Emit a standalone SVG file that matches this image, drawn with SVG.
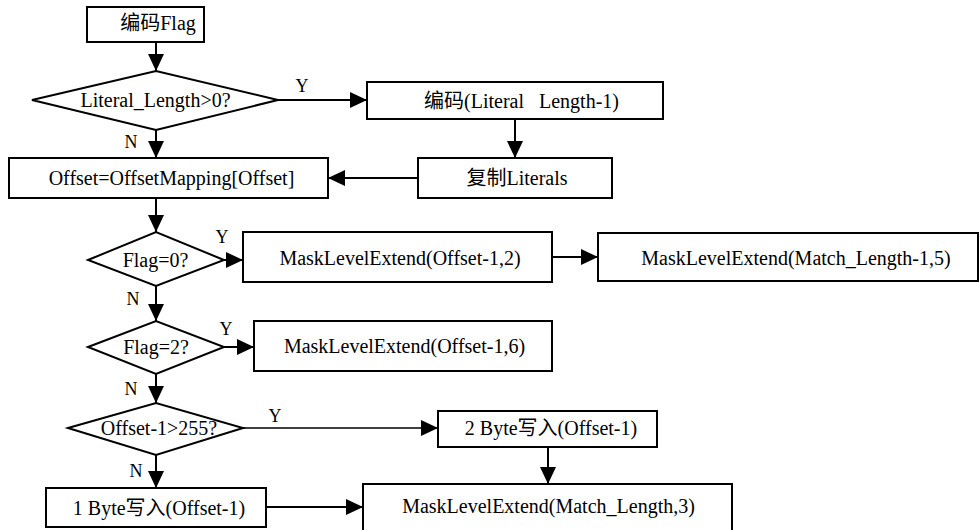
<svg xmlns="http://www.w3.org/2000/svg" width="979" height="530" viewBox="0 0 979 530">
<defs>
<style>
.n{fill:#fff;stroke:#000;stroke-width:2}
.t{font-family:"Liberation Serif",serif;font-size:20px;fill:#000;text-anchor:middle}
.z{font-family:"Liberation Serif","Noto Sans CJK SC",sans-serif}
.l{font-family:"Liberation Serif",serif;font-size:18px;fill:#000;text-anchor:middle}
.c{stroke:#000;stroke-width:2;fill:none;marker-end:url(#a)}
.thin{stroke-width:1.3}
</style>
<marker id="a" markerUnits="userSpaceOnUse" markerWidth="17" markerHeight="16" refX="17" refY="8" orient="auto">
<path d="M0,0 L17,8 L0,16 z" fill="#000"/>
</marker>
</defs>
<rect width="979" height="530" fill="#fff"/>
<g id="connectors">
<line class="c" x1="156" y1="42" x2="156" y2="71"/>
<line class="c" x1="278" y1="100" x2="367" y2="100"/>
<line class="c" x1="515" y1="119" x2="515" y2="158"/>
<line class="c" x1="418" y1="178" x2="328" y2="178"/>
<line class="c" x1="156" y1="130" x2="156" y2="158"/>
<line class="c" x1="156" y1="198" x2="156" y2="232"/>
<line class="c" x1="224" y1="260" x2="243" y2="260"/>
<line class="c" x1="552" y1="257" x2="598" y2="257"/>
<line class="c" x1="156" y1="286" x2="156" y2="321"/>
<line class="c" x1="224" y1="347" x2="254" y2="347"/>
<line class="c" x1="156" y1="374" x2="156" y2="403"/>
<line class="c thin" x1="243" y1="428" x2="438" y2="428"/>
<line class="c" x1="548" y1="447" x2="548" y2="484"/>
<line class="c" x1="156" y1="455" x2="156" y2="488"/>
<line class="c" x1="266" y1="507" x2="363" y2="507"/>
<text class="l" x="302" y="92">Y</text>
<text class="l" x="131" y="148">N</text>
<text class="l" x="222" y="243">Y</text>
<text class="l" x="133" y="305">N</text>
<text class="l" x="226" y="335">Y</text>
<text class="l" x="131" y="395">N</text>
<text class="l" x="275" y="422">Y</text>
<text class="l" x="136" y="477">N</text>
</g>
<g id="n1"><rect class="n" x="87" y="7" width="117" height="35"/><text class="t" x="158" y="30"><tspan class="z">编码</tspan>Flag</text></g>
<g id="n2"><polygon class="n" points="32,100 156,71 278,100 156,130"/><text class="t" x="155.5" y="107">Literal_Length&gt;0?</text></g>
<g id="n3"><rect class="n" x="367" y="82" width="296" height="37"/><text class="t" x="521.5" y="108"><tspan class="z">编码</tspan>(Literal&#160;&#160; Length-1)</text></g>
<g id="n4"><rect class="n" x="418" y="158" width="194" height="40"/><text class="t" x="517" y="185"><tspan class="z">复制</tspan>Literals</text></g>
<g id="n5"><rect class="n" x="9" y="158" width="319" height="40"/><text class="t" x="171.5" y="185">Offset=OffsetMapping[Offset]</text></g>
<g id="n6"><polygon class="n" points="88,260 156,232 224,260 156,286"/><text class="t" x="155.5" y="267">Flag=0?</text></g>
<g id="n7"><rect class="n" x="243" y="232" width="309" height="50"/><text class="t" x="400" y="265">MaskLevelExtend(Offset-1,2)</text></g>
<g id="n8"><rect class="n" x="598" y="233" width="380" height="48"/><text class="t" x="796" y="265">MaskLevelExtend(Match_Length-1,5)</text></g>
<g id="n9"><polygon class="n" points="88,347 156,321 224,347 156,374"/><text class="t" x="156" y="354">Flag=2?</text></g>
<g id="n10"><rect class="n" x="254" y="321" width="298" height="50"/><text class="t" x="404.5" y="353">MaskLevelExtend(Offset-1,6)</text></g>
<g id="n11"><polygon class="n" points="68,428 156,403 243,428 156,455"/><text class="t" x="159" y="435">Offset-1&gt;255?</text></g>
<g id="n12"><rect class="n" x="438" y="411" width="219" height="36"/><text class="t" x="551" y="435">2 Byte<tspan class="z">写入</tspan>(Offset-1)</text></g>
<g id="n13"><rect class="n" x="46" y="488" width="220" height="39"/><text class="t" x="159" y="515">1 Byte<tspan class="z">写入</tspan>(Offset-1)</text></g>
<g id="n14"><rect class="n" x="363" y="484" width="369" height="48"/><text class="t" x="548.5" y="513">MaskLevelExtend(Match_Length,3)</text></g>
</svg>
